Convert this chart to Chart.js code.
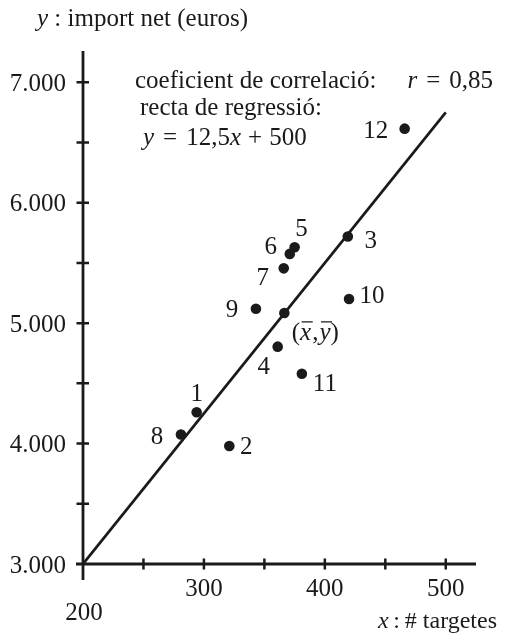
<!DOCTYPE html>
<html>
<head>
<meta charset="utf-8">
<script src="https://cdn.jsdelivr.net/npm/chart.js@4/dist/chart.umd.min.js"></script>
<style>
  html, body { margin: 0; padding: 0; background: #fff; }
  #wrap { width: 510px; height: 637px; }
</style>
</head>
<body>
<div id="wrap"><canvas id="c" width="510" height="637"></canvas></div>
<script>
// Card count (x) and net amount in euros (y) for each of the twelve observations
const pointIds = ['1', '2', '3', '4', '5', '6', '7', '8', '9', '10', '11', '12'];
const cards    = [294, 321, 419, 361, 375, 371, 366, 281, 343, 420, 381, 466];
const amounts  = [4260, 3980, 5720, 4805, 5630, 5575, 5455, 4075, 5120, 5200, 4580, 6615];

// Regression line y = slope * x + intercept, drawn over fitRange
const slope = 12.5;
const intercept = 500;
const fitRange = [200, 500];
const correlation = 0.85;

// Axis ticks
const xMajorTicks = [200, 300, 400, 500];
const xMinorTicks = [250, 350, 450];
const yMajorTicks = [3000, 4000, 5000, 6000, 7000];
const yMinorTicks = [3500, 4500, 5500, 6500];

// Label offsets (pixels) of each point's number relative to its dot
const labelOffsets = [
  [0, -19], [17, 0], [23, 4], [-14, 20], [7, -19], [-19, -7],
  [-21, 9], [-24, 2], [-24, 1], [23, -4], [23, 10], [-29, 2]
];

const INK = '#1a1a1a';
const SERIF = '"Liberation Serif", "DejaVu Serif", serif';
const FS = 25;

const meanX = cards.reduce((a, b) => a + b, 0) / cards.length;
const meanY = amounts.reduce((a, b) => a + b, 0) / amounts.length;

const fmtThousands = v => String(v).replace(/\B(?=(\d{3})+(?!\d))/g, '.');
const fmtDecimal = v => String(v).replace('.', ',');

// Draws a run of text pieces (some italic) side by side; gap adds math spacing
function drawRich(ctx, parts, x, y, align, size) {
  const fs = size || FS;
  let total = 0;
  parts.forEach(p => {
    ctx.font = (p.i ? 'italic ' : '') + fs + 'px ' + SERIF;
    p.w = ctx.measureText(p.t).width + (p.gap || 0);
    total += p.w;
  });
  let cx = align === 'center' ? x - total / 2 : align === 'right' ? x - total : x;
  ctx.textAlign = 'left';
  ctx.textBaseline = 'middle';
  parts.forEach(p => {
    ctx.font = (p.i ? 'italic ' : '') + fs + 'px ' + SERIF;
    ctx.fillText(p.t, cx + (p.gap || 0) / 2, y);
    p.x = cx;
    cx += p.w;
  });
  return parts;
}

const axesPlugin = {
  id: 'handAxes',
  beforeDatasetsDraw(chart) {
    const ctx = chart.ctx;
    const xs = chart.scales.x, ys = chart.scales.y;
    const x0 = xs.getPixelForValue(200), y0 = ys.getPixelForValue(3000);
    ctx.save();
    ctx.strokeStyle = INK;
    ctx.lineCap = 'butt';
    ctx.lineWidth = 2.8;
    ctx.beginPath();
    ctx.moveTo(x0, chart.chartArea.top);
    ctx.lineTo(x0, y0 + 16);
    ctx.moveTo(x0 - 7, y0);
    ctx.lineTo(chart.chartArea.right, y0);
    ctx.stroke();
    ctx.lineWidth = 2.5;
    ctx.beginPath();
    yMajorTicks.concat(yMinorTicks).forEach(v => {
      if (v === 3000) return;
      const py = ys.getPixelForValue(v);
      ctx.moveTo(x0 - 6.5, py); ctx.lineTo(x0 + 6, py);
    });
    xMajorTicks.concat(xMinorTicks).forEach(v => {
      if (v === 200) return;
      const px = xs.getPixelForValue(v);
      ctx.moveTo(px, y0 - 5.5); ctx.lineTo(px, y0 + 5.5);
    });
    ctx.stroke();
    ctx.restore();
  },
  afterDatasetsDraw(chart) {
    const ctx = chart.ctx;
    const xs = chart.scales.x, ys = chart.scales.y;
    ctx.save();
    ctx.fillStyle = INK;
    ctx.strokeStyle = INK;

    // tick labels
    ctx.font = FS + 'px ' + SERIF;
    ctx.textBaseline = 'middle';
    ctx.textAlign = 'right';
    yMajorTicks.forEach(v => {
      ctx.fillText(fmtThousands(v), xs.getPixelForValue(200) - 17, ys.getPixelForValue(v) + 2);
    });
    ctx.textAlign = 'center';
    xMajorTicks.forEach(v => {
      const px = xs.getPixelForValue(v);
      const py = v === 200 ? 613 : 589;
      ctx.fillText(String(v), px + (v === 200 ? 1 : 0), py);
    });

    // axis titles
    drawRich(ctx, [{ t: 'y', i: 1 }, { t: ' : import net (euros)' }], 37, 19, 'left');
    drawRich(ctx, [{ t: 'x', i: 1 }, { t: '\u2009:\u2009# targetes' }], 497, 622, 'right', 24);

    // regression summary
    drawRich(ctx, [{ t: 'coeficient de correlació:' }], 135, 81, 'left');
    drawRich(ctx, [{ t: 'r', i: 1 }, { t: '=', gap: 18 }, { t: fmtDecimal(correlation) }], 493, 81, 'right');
    drawRich(ctx, [{ t: 'recta de regressió:' }], 140, 108, 'left');
    drawRich(ctx, [{ t: 'y', i: 1 }, { t: '=', gap: 18 }, { t: fmtDecimal(slope) }, { t: 'x', i: 1 },
                   { t: '+', gap: 14 }, { t: String(intercept) }], 143, 138, 'left');

    // point numbers
    ctx.font = FS + 'px ' + SERIF;
    ctx.textAlign = 'center';
    ctx.textBaseline = 'middle';
    pointIds.forEach((id, i) => {
      const px = xs.getPixelForValue(cards[i]) + labelOffsets[i][0];
      const py = ys.getPixelForValue(amounts[i]) + labelOffsets[i][1];
      ctx.fillText(id, px, py + 1);
    });

    // mean point label (x̄, ȳ)
    const mx = xs.getPixelForValue(meanX) + 31, my = ys.getPixelForValue(meanY) + 20;
    const parts = drawRich(ctx, [{ t: '(' }, { t: 'x', i: 1 }, { t: ',', gap: 2 }, { t: 'y', i: 1 }, { t: ')' }], mx, my, 'center');
    ctx.lineWidth = 1.3;
    ctx.beginPath();
    [parts[1], parts[3]].forEach(p => {
      ctx.moveTo(p.x + 1.5, my - 11);
      ctx.lineTo(p.x + p.w + 1.5, my - 11);
    });
    ctx.stroke();
    ctx.restore();
  }
};

const fitLine = fitRange.map(x => ({ x, y: slope * x + intercept }));

const hiddenAxis = {
  grid: { display: false, drawTicks: false, tickLength: 0 },
  border: { display: false },
  ticks: { display: false, padding: 0 }
};

new Chart(document.getElementById('c'), {
  type: 'scatter',
  data: {
    datasets: [
      {
        label: 'recta',
        data: fitLine,
        showLine: true,
        borderColor: INK,
        borderWidth: 2.7,
        pointRadius: 0,
        order: 2
      },
      {
        label: 'observacions',
        data: cards.map((x, i) => ({ x, y: amounts[i] })),
        backgroundColor: INK,
        borderColor: INK,
        pointRadius: 5.3,
        borderWidth: 0,
        order: 1
      },
      {
        label: 'mitjana',
        data: [{ x: meanX, y: meanY }],
        backgroundColor: INK,
        borderColor: INK,
        pointRadius: 5.3,
        borderWidth: 0,
        order: 0
      }
    ]
  },
  options: {
    responsive: false,
    devicePixelRatio: 1,
    animation: false,
    layout: { padding: { left: 83, right: 34, top: 51, bottom: 73 } },
    plugins: { legend: { display: false }, tooltip: { enabled: false } },
    scales: {
      x: Object.assign({ type: 'linear', min: 200, max: 525 }, hiddenAxis),
      y: Object.assign({ type: 'linear', min: 3000, max: 7260 }, hiddenAxis)
    }
  },
  plugins: [axesPlugin]
});
</script>
</body>
</html>
